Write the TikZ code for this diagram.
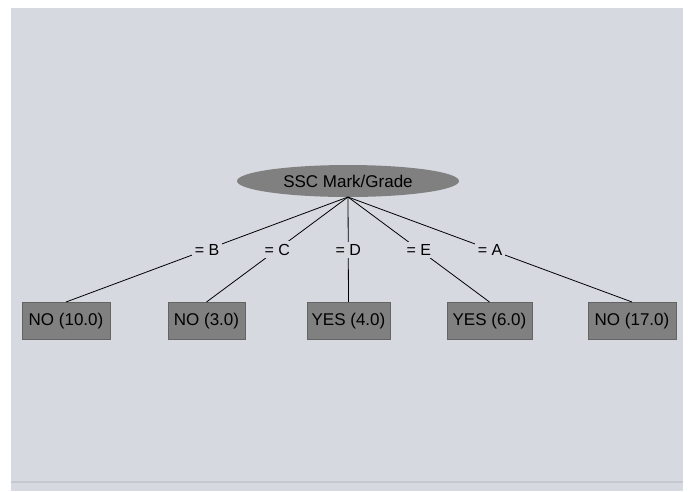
\documentclass[tikz,border=0pt]{standalone}
\usepackage{fontspec}
\setmainfont{Liberation Sans}
\usetikzlibrary{shapes.geometric}
\definecolor{panel}{RGB}{214,217,224}
\definecolor{nodegray}{RGB}{128,128,128}
\definecolor{boxedge}{RGB}{100,100,100}
\tikzset{
  treefont/.style={font=\fontsize{17}{20}\selectfont},
  labelfont/.style={font=\fontsize{16}{19}\selectfont},
  root/.style={ellipse, fill=nodegray, draw=none, minimum width=222pt, minimum height=32pt, inner sep=0pt, treefont},
  leaf/.style={rectangle, fill=nodegray, draw=boxedge, line width=0.8pt, minimum height=37pt, inner sep=0pt, anchor=north, treefont},
  edgelabel/.style={fill=panel, inner sep=2.5pt, labelfont},
  edgeline/.style={draw=black, line width=0.8pt}
}
\begin{document}
\begin{tikzpicture}[x=1pt, y=-1pt]
\useasboundingbox (0,0) rectangle (688,491);
\fill[white] (0,0) rectangle (688,491);
\fill[panel] (11,8) rectangle (683,491);
\fill[panel!92!black] (11,481) rectangle (683,483);
\node[root] (root) at (348,181) {SSC Mark/Grade};
\coordinate (src) at (348,197);
\node[leaf, minimum width=88pt] (l1) at (66,302) {NO (10.0)};
\node[leaf, minimum width=77pt] (l2) at (206.5,302) {NO (3.0)};
\node[leaf, minimum width=83pt] (l3) at (348.5,302) {YES (4.0)};
\node[leaf, minimum width=85pt] (l4) at (489.5,302) {YES (6.0)};
\node[leaf, minimum width=88pt] (l5) at (632,302) {NO (17.0)};
\foreach \n/\t in {l1/B, l2/C, l3/D, l4/E, l5/A}{
  \draw[edgeline] (src) -- (\n.north) node[midway, edgelabel] {= \t};
}
\end{tikzpicture}
\end{document}
